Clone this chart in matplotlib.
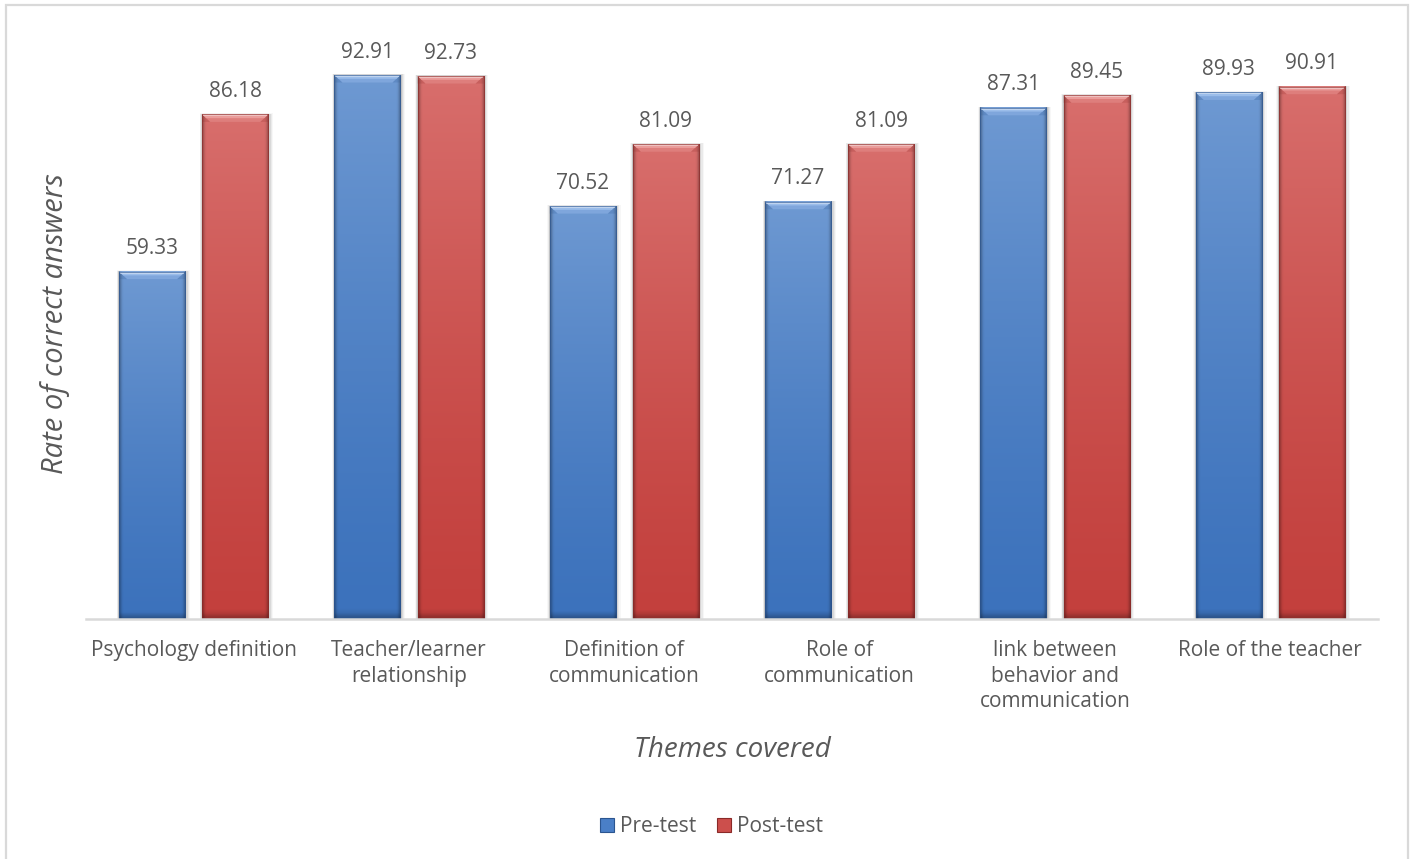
import matplotlib
matplotlib.use("Agg")
import matplotlib.pyplot as plt
import numpy as np
from matplotlib.patches import Rectangle, Polygon, Patch
from matplotlib.colors import to_rgb

# ---- data -------------------------------------------------------------
categories = [
    "Psychology definition",
    "Teacher/learner\nrelationship",
    "Definition of\ncommunication",
    "Role of\ncommunication",
    "link between\nbehavior and\ncommunication",
    "Role of the teacher",
]
pre_test = [59.33, 92.91, 70.52, 71.27, 87.31, 89.93]
post_test = [86.18, 92.73, 81.09, 81.09, 89.45, 90.91]
series_names = ["Pre-test", "Post-test"]

# ---- styling ----------------------------------------------------------
FONT = "Open Sans"
TEXT = "#595959"
GRID = "#D9D9D9"
styles = {
    "Pre-test": dict(top="#6E99D2", bottom="#3C72BC", bevel="#9BBDEA",
                     bevel_lo="#7FA6DC", edge="#2B5590", base="#4A7FC7"),
    "Post-test": dict(top="#D86E6C", bottom="#C3403D", bevel="#EA9C9A",
                      bevel_lo="#DE7E7C", edge="#8A2A28", base="#CC4F4C"),
}

plt.rcParams["font.family"] = [FONT, "DejaVu Sans"]

W, H = 1410, 859
fig = plt.figure(figsize=(W / 100, H / 100), dpi=100)
fig.patch.set_facecolor("white")
ax = fig.add_axes([86 / W, 240 / H, 1292 / W, 585.5 / H])

x = np.arange(len(categories))
bar_w = 0.307
offset = 0.193

px_x = 6 / 1292.0       # one pixel in x data units (6 groups across)
px_y = 100 / 585.5      # one pixel in y data units


def shade_bar(rect, st):
    x0, w, h = rect.get_x(), rect.get_width(), rect.get_height()
    # soft drop shadow
    for k, a in zip((4, 3, 2, 1), (0.03, 0.05, 0.07, 0.09)):
        ax.add_patch(Rectangle((x0 - k * px_x * 0.6, -k * px_y * 0.3),
                               w + k * px_x * 1.8, h + k * px_y * 0.6,
                               facecolor="black", edgecolor="none",
                               alpha=a, zorder=1.5))
    # body gradient: lighter at top, darker towards the vertical edges
    ny, nx = 128, 48
    t = np.linspace(0, 1, ny)[:, None]
    s = np.linspace(0, 1, nx)[None, :]
    top = np.array(to_rgb(st["top"]))
    bot = np.array(to_rgb(st["bottom"]))
    col = bot[None, None, :] + (top - bot)[None, None, :] * (t ** 1.3)[:, :, None]
    d = np.minimum(s, 1 - s)
    edge_f = np.clip(1 - d / 0.06, 0, 1) ** 1.5
    col = col * (1 - 0.28 * edge_f[:, :, None])
    bottom_f = np.clip(1 - (t * h) / 1.0, 0, 1)
    col = col * (1 - 0.25 * bottom_f[:, :, None])
    ax.imshow(np.clip(col, 0, 1), extent=[x0, x0 + w, 0, h], origin="lower",
              aspect="auto", interpolation="bilinear", zorder=2)
    # top bevel: two-tone light trapezoid with chamfered corners
    bv = 7.5 * px_y
    dx = 8 * px_x
    ax.add_patch(Polygon([(x0, h), (x0 + w, h), (x0 + w - dx, h - bv),
                          (x0 + dx, h - bv)], closed=True,
                         facecolor=st["bevel_lo"], edgecolor="none", zorder=2.2))
    ax.add_patch(Polygon([(x0, h), (x0 + w, h), (x0 + w - dx * 0.5, h - bv * 0.5),
                          (x0 + dx * 0.5, h - bv * 0.5)], closed=True,
                         facecolor=st["bevel"], edgecolor="none", zorder=2.25))
    for xa, xb in ((x0, x0 + dx), (x0 + w, x0 + w - dx)):
        ax.add_patch(Polygon([(xa, h), (xb, h - bv), (xa, h - bv)],
                             closed=True, facecolor=st["edge"], alpha=0.2,
                             edgecolor="none", zorder=2.2))
    ax.plot([x0 + 1 * px_x, x0 + w - 1 * px_x], [h - 1.0 * px_y] * 2,
            color="white", alpha=0.5, lw=1.2, zorder=2.3,
            solid_capstyle="butt")
    # thin outline
    ax.add_patch(Rectangle((x0, 0), w, h, facecolor="none",
                           edgecolor=st["edge"], lw=0.8, alpha=0.6, zorder=2.4))


for vals, name, sign in ((pre_test, "Pre-test", -1), (post_test, "Post-test", 1)):
    bars = ax.bar(x + sign * offset, vals, bar_w, color=styles[name]["base"],
                  zorder=1, label=name)
    for rect, v in zip(bars, vals):
        shade_bar(rect, styles[name])
        ax.annotate(f"{v:.2f}", (rect.get_x() + rect.get_width() / 2, v),
                    xytext=(0, 9), textcoords="offset points",
                    ha="center", va="bottom", fontsize=15, color=TEXT)

ax.set_xlim(-0.5, len(categories) - 0.5)
ax.set_ylim(0, 100)
ax.set_xticks(x)
ax.set_xticklabels(categories, fontsize=15, color=TEXT, linespacing=1.3)
ax.tick_params(axis="x", length=0, pad=15)
ax.set_yticks([])
for side in ("top", "right", "left"):
    ax.spines[side].set_visible(False)
ax.spines["bottom"].set_color(GRID)
ax.spines["bottom"].set_linewidth(1.8)
ax.set_facecolor("none")

fig.text(732 / W, 1 - 750 / H, "Themes covered", ha="center", va="center",
         fontsize=20, style="italic", color=TEXT)
fig.text(55 / W, 1 - 324 / H, "Rate of correct answers", ha="center",
         va="center", rotation=90, fontsize=21, style="italic", color=TEXT)

handles = [Patch(facecolor=styles[n]["base"], edgecolor=styles[n]["edge"],
                 lw=0.8, label=n) for n in series_names]
fig.legend(handles=handles, loc="center", bbox_to_anchor=(711.5 / W, 1 - 827 / H),
           ncol=2, frameon=False, fontsize=15, labelcolor=TEXT,
           handlelength=0.67, handleheight=0.67, handletextpad=0.3,
           columnspacing=1.0)

# chart-area frame
fig.add_artist(Rectangle((6 / W, -0.02), 1402 / W, (H - 5) / H + 0.02,
                         transform=fig.transFigure, fill=False,
                         edgecolor=GRID, lw=1.6))

fig.savefig("out.png", dpi=100)
